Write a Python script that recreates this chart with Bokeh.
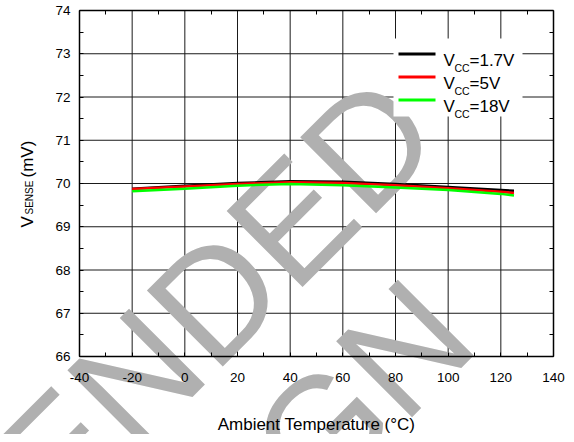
from math import pi
from bokeh.plotting import figure
from bokeh.models import Range1d, SingleIntervalTicker, FixedTicker, LinearAxis, Label, BoxAnnotation
from bokeh.embed import file_html
from bokeh.resources import INLINE

# ---- data ----
temps = [-20, 0, 20, 40, 60, 80, 100, 120, 125]
vsense_1v7 = [69.88, 69.95, 70.01, 70.05, 70.04, 69.99, 69.92, 69.85, 69.83]
vsense_5v = [69.87, 69.93, 69.99, 70.03, 70.01, 69.96, 69.89, 69.81, 69.78]
vsense_18v = [69.82, 69.88, 69.95, 69.99, 69.96, 69.91, 69.85, 69.76, 69.72]
series_vcc = ["1.7V", "5V", "18V"]
series_colors = ["#000000", "#ff0000", "#00ff00"]
x_range_lim = (-40, 140)
y_range_lim = (66, 74)
x_ticks = [-40, -20, 0, 20, 40, 60, 80, 100, 120, 140]
y_ticks = [66, 67, 68, 69, 70, 71, 72, 73, 74]
x_title = "Ambient Temperature (°C)"
y_title = ["V", "SENSE", "(mV)"]
watermark_lines = ["NOT RECOMMENDED", "FOR NEW DESIGN"]

# ---- layout (canvas pixels) ----
FONT = "Liberation Sans"
W, H = 566, 434
BOX_L, BOX_R, BOX_T, BOX_B = 79, 553, 10, 356

xs = (x_range_lim[1] - x_range_lim[0]) / (BOX_R - BOX_L)
ys = (y_range_lim[1] - y_range_lim[0]) / (BOX_B - BOX_T)
xr = Range1d(x_range_lim[0] - BOX_L * xs, x_range_lim[1] + (W - BOX_R) * xs)
yr = Range1d(y_range_lim[0] - (H - BOX_B) * ys, y_range_lim[1] + BOX_T * ys)

p = figure(width=W, height=H, x_range=xr, y_range=yr, output_backend="svg",
           toolbar_location=None, x_axis_type=None, y_axis_type=None, min_border=0)
p.outline_line_color = None
p.background_fill_color = "white"
p.border_fill_color = "white"


def SY(py):
    return H - py


# grid lines (bottom-most layer)
p.segment(x0=x_ticks, y0=[y_range_lim[0]] * len(x_ticks), x1=x_ticks, y1=[y_range_lim[1]] * len(x_ticks),
          line_color="#1a1a1a", line_width=1, level="image")
p.segment(x0=[x_range_lim[0]] * len(y_ticks), y0=y_ticks, x1=[x_range_lim[1]] * len(y_ticks), y1=y_ticks,
          line_color="#1a1a1a", line_width=1, level="image")

# watermark, above the grid and under everything else
wm_pos = [(410, 102), (444, 308)]
for txt, (wx, wy) in zip(watermark_lines, wm_pos):
    p.add_layout(Label(x=wx, y=SY(wy), x_units="screen", y_units="screen", text=txt, angle=pi / 4,
                       text_align="right", text_baseline="alphabetic", text_font=FONT,
                       text_font_size="156px", text_color="#b0b0b0", level="underlay"))

# axes (drawn at the plot box edges)
xt = SingleIntervalTicker(interval=x_ticks[1] - x_ticks[0], num_minor_ticks=2)
yt = SingleIntervalTicker(interval=y_ticks[1] - y_ticks[0], num_minor_ticks=2)
x_minor = [(a + b) / 2 for a, b in zip(x_ticks[:-1], x_ticks[1:])]
y_minor = [(a + b) / 2 for a, b in zip(y_ticks[:-1], y_ticks[1:])]


def style_axis(ax):
    ax.axis_line_color = "black"
    ax.axis_line_width = 1.5
    ax.major_tick_in = 0
    ax.major_tick_out = 0
    ax.minor_tick_in = 4
    ax.minor_tick_out = 0
    ax.minor_tick_line_color = "black"
    ax.minor_tick_line_width = 1
    ax.major_label_text_font = FONT
    ax.major_label_text_font_size = "13.5px"
    ax.major_label_text_color = "black"


xb = LinearAxis(ticker=xt, fixed_location=y_range_lim[0], bounds=x_range_lim)
style_axis(xb)
xb.major_label_standoff = 16
xb.major_label_overrides = {float(t): str(t) for t in x_ticks}
p.add_layout(xb, "below")

yl = LinearAxis(ticker=yt, fixed_location=x_range_lim[0], bounds=y_range_lim)
style_axis(yl)
yl.major_label_standoff = 9
yl.major_label_overrides = {float(t): str(t) for t in y_ticks}
p.add_layout(yl, "left")

xa = LinearAxis(ticker=FixedTicker(ticks=[], minor_ticks=x_minor), fixed_location=y_range_lim[1],
                bounds=x_range_lim)
style_axis(xa)
p.add_layout(xa, "above")
yrt = LinearAxis(ticker=FixedTicker(ticks=[], minor_ticks=y_minor), fixed_location=x_range_lim[1],
                 bounds=y_range_lim)
style_axis(yrt)
p.add_layout(yrt, "right")

# data
for vals, col in zip([vsense_1v7, vsense_5v, vsense_18v], series_colors):
    p.line(temps, vals, line_color=col, line_width=2.5)

# axis titles
p.add_layout(Label(x=(BOX_L + BOX_R) / 2, y=SY(424), x_units="screen", y_units="screen", text=x_title,
                   text_align="center", text_baseline="middle", text_font=FONT, text_font_size="17px",
                   text_color="black", level="annotation"))
for txt, bx, by, fs in zip(y_title, [27, 29, 27], [227, 214, 177], ["17px", "10px", "17px"]):
    p.add_layout(Label(x=bx, y=SY(by), x_units="screen", y_units="screen", text=txt, angle=pi / 2,
                       text_align="left", text_baseline="alphabetic", text_font=FONT,
                       text_font_size=fs, text_color="black", level="annotation"))

# legend
p.add_layout(BoxAnnotation(left=393, right=522, top=SY(38), bottom=SY(116), left_units="screen",
                           right_units="screen", top_units="screen", bottom_units="screen",
                           fill_color="white", fill_alpha=1, line_color=None, level="annotation"))
row_y = [53.5, 76.5, 99.5]
for name, col, ry in zip(series_vcc, series_colors, row_y):
    p.add_layout(BoxAnnotation(left=398, right=435, top=SY(ry - 1.5), bottom=SY(ry + 1.5), left_units="screen",
                               right_units="screen", top_units="screen", bottom_units="screen",
                               fill_color=col, fill_alpha=1, line_color=None, level="annotation"))
    for txt, tx, dy, fs in (("V", 443, 6.7, "17px"), ("CC", 454, 14, "10.5px"), ("=" + name, 469, 6.7, "17px")):
        p.add_layout(Label(x=tx, y=SY(ry + dy), x_units="screen", y_units="screen", text=txt,
                           text_align="left", text_baseline="alphabetic", text_font=FONT,
                           text_font_size=fs, text_color="black", level="annotation"))

open("out.html", "w").write(file_html(p, INLINE))
